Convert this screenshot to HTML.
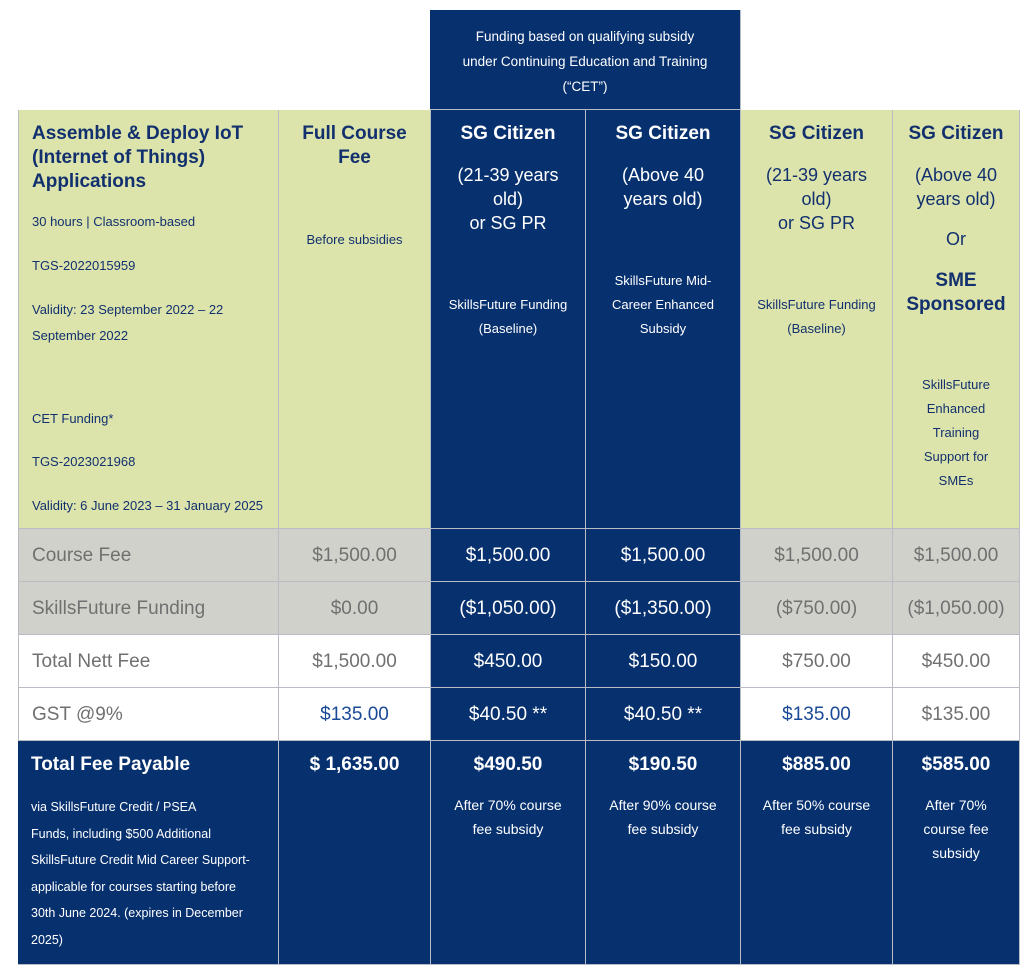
<!DOCTYPE html>
<html><head><meta charset="utf-8"><style>
*{margin:0;padding:0;box-sizing:border-box}
body{width:1024px;height:974px;background:#fff;position:relative;font-family:"Liberation Sans",sans-serif;overflow:hidden}
.c{position:absolute;border-right:1px solid #b9bcc4;border-bottom:1px solid #b9bcc4;text-align:center}
.g{background:#dce4ab;color:#12306e}
.n{background:#07306f;color:#fff}
.gr{background:#d1d1cc;color:#707070}
.w{background:#fff;color:#707070}
.v{font-size:19px;line-height:53px}
.h{font-weight:bold;font-size:19px;line-height:24px}
.s{font-size:13px;line-height:24px}
.m{font-size:18px;line-height:24px}
.l{position:absolute;left:13px;font-size:13px;line-height:22px;white-space:nowrap}
</style></head><body>
<div class="c n" style="left:430px;top:10px;width:311px;height:100px;padding-top:14px;font-size:13.5px;line-height:25px">Funding based on qualifying subsidy<br>under Continuing Education and Training<br>(“CET”)</div>

<div class="c g" style="left:18px;top:110px;width:261px;height:419px;text-align:left;padding:12px 0 0 13px;border-left:1px solid #b9bcc4">
<div class="h">Assemble &amp; Deploy IoT<br>(Internet of Things)<br>Applications</div>
<div class="l" style="top:101px">30 hours | Classroom-based</div>
<div class="l" style="top:145px">TGS-2022015959</div>
<div class="l" style="top:189px">Validity: 23 September 2022 – 22</div>
<div class="l" style="top:215px">September 2022</div>
<div class="l" style="top:298px">CET Funding*</div>
<div class="l" style="top:341px">TGS-2023021968</div>
<div class="l" style="top:385px">Validity: 6 June 2023 – 31 January 2025</div>
</div>
<div class="c g" style="left:279px;top:110px;width:152px;height:419px;padding-top:12px"><div class="h">Full Course<br>Fee</div><div class="s" style="margin-top:58px">Before subsidies</div></div>
<div class="c n" style="left:431px;top:110px;width:155px;height:419px;padding-top:12px"><div class="h">SG Citizen</div><div class="m" style="margin-top:17px">(21-39 years<br>old)<br>or SG PR</div><div class="s" style="margin-top:58px">SkillsFuture Funding<br>(Baseline)</div></div>
<div class="c n" style="left:586px;top:110px;width:155px;height:419px;padding-top:12px"><div class="h">SG Citizen</div><div class="m" style="margin-top:17px">(Above 40<br>years old)</div><div class="s" style="margin-top:58px">SkillsFuture Mid-<br>Career Enhanced<br>Subsidy</div></div>
<div class="c g" style="left:741px;top:110px;width:152px;height:419px;padding-top:12px"><div class="h">SG Citizen</div><div class="m" style="margin-top:17px">(21-39 years<br>old)<br>or SG PR</div><div class="s" style="margin-top:58px">SkillsFuture Funding<br>(Baseline)</div></div>
<div class="c g" style="left:893px;top:110px;width:127px;height:419px;padding-top:12px"><div class="h">SG Citizen</div><div class="m" style="margin-top:17px">(Above 40<br>years old)</div><div class="m" style="margin-top:16px">Or</div><div class="h" style="margin-top:18px">SME<br>Sponsored</div><div class="s" style="margin-top:56px">SkillsFuture<br>Enhanced<br>Training<br>Support for<br>SMEs</div></div>

<div class="c gr v" style="left:18px;top:529px;width:261px;height:53px;text-align:left;padding-left:13px;border-left:1px solid #b9bcc4">Course Fee</div>
<div class="c gr v" style="left:279px;top:529px;width:152px;height:53px">$1,500.00</div>
<div class="c n v" style="left:431px;top:529px;width:155px;height:53px">$1,500.00</div>
<div class="c n v" style="left:586px;top:529px;width:155px;height:53px">$1,500.00</div>
<div class="c gr v" style="left:741px;top:529px;width:152px;height:53px">$1,500.00</div>
<div class="c gr v" style="left:893px;top:529px;width:127px;height:53px">$1,500.00</div>

<div class="c gr v" style="left:18px;top:582px;width:261px;height:53px;text-align:left;padding-left:13px;border-left:1px solid #b9bcc4">SkillsFuture Funding</div>
<div class="c gr v" style="left:279px;top:582px;width:152px;height:53px">$0.00</div>
<div class="c n v" style="left:431px;top:582px;width:155px;height:53px">($1,050.00)</div>
<div class="c n v" style="left:586px;top:582px;width:155px;height:53px">($1,350.00)</div>
<div class="c gr v" style="left:741px;top:582px;width:152px;height:53px">($750.00)</div>
<div class="c gr v" style="left:893px;top:582px;width:127px;height:53px">($1,050.00)</div>

<div class="c w v" style="left:18px;top:635px;width:261px;height:53px;text-align:left;padding-left:13px;border-left:1px solid #b9bcc4">Total Nett Fee</div>
<div class="c w v" style="left:279px;top:635px;width:152px;height:53px">$1,500.00</div>
<div class="c n v" style="left:431px;top:635px;width:155px;height:53px">$450.00</div>
<div class="c n v" style="left:586px;top:635px;width:155px;height:53px">$150.00</div>
<div class="c w v" style="left:741px;top:635px;width:152px;height:53px">$750.00</div>
<div class="c w v" style="left:893px;top:635px;width:127px;height:53px">$450.00</div>

<div class="c w v" style="left:18px;top:688px;width:261px;height:53px;text-align:left;padding-left:13px;border-left:1px solid #b9bcc4">GST @9%</div>
<div class="c w v" style="left:279px;top:688px;width:152px;height:53px;color:#1a4a95">$135.00</div>
<div class="c n v" style="left:431px;top:688px;width:155px;height:53px">$40.50 **</div>
<div class="c n v" style="left:586px;top:688px;width:155px;height:53px">$40.50 **</div>
<div class="c w v" style="left:741px;top:688px;width:152px;height:53px;color:#1a4a95">$135.00</div>
<div class="c w v" style="left:893px;top:688px;width:127px;height:53px">$135.00</div>

<div class="c n" style="left:18px;top:741px;width:261px;height:224px;text-align:left;padding:12px 0 0 13px"><div class="h">Total Fee Payable</div><div class="s" style="margin-top:17px;line-height:26.6px;font-size:12.5px">via SkillsFuture Credit / PSEA<br>Funds, including $500 Additional<br>SkillsFuture Credit Mid Career Support-<br>applicable for courses starting before<br>30th June 2024. (expires in December<br>2025)</div></div>
<div class="c n" style="left:279px;top:741px;width:152px;height:224px;padding-top:12px"><div class="h">$ 1,635.00</div></div>
<div class="c n" style="left:431px;top:741px;width:155px;height:224px;padding-top:12px"><div class="h">$490.50</div><div class="s" style="margin-top:16px;font-size:14px">After 70% course<br>fee subsidy</div></div>
<div class="c n" style="left:586px;top:741px;width:155px;height:224px;padding-top:12px"><div class="h">$190.50</div><div class="s" style="margin-top:16px;font-size:14px">After 90% course<br>fee subsidy</div></div>
<div class="c n" style="left:741px;top:741px;width:152px;height:224px;padding-top:12px"><div class="h">$885.00</div><div class="s" style="margin-top:16px;font-size:14px">After 50% course<br>fee subsidy</div></div>
<div class="c n" style="left:893px;top:741px;width:127px;height:224px;padding-top:12px"><div class="h">$585.00</div><div class="s" style="margin-top:16px;font-size:14px">After 70%<br>course fee<br>subsidy</div></div>
</body></html>
